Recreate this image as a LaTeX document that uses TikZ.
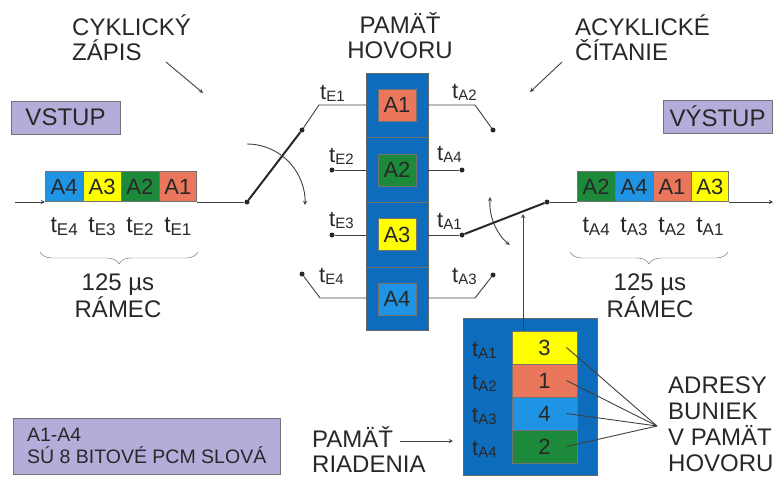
\documentclass[tikz,border=0pt]{standalone}
\usepackage{fontspec}
\setmainfont{Liberation Sans}
\usetikzlibrary{positioning,decorations.pathreplacing}

\definecolor{memblue}{RGB}{14,108,188}
\definecolor{cblue}{RGB}{32,148,228}
\definecolor{cyel}{RGB}{255,255,0}
\definecolor{cgreen}{RGB}{28,138,58}
\definecolor{csalmon}{RGB}{234,118,92}
\definecolor{lilac}{RGB}{181,172,218}
\definecolor{ink}{RGB}{40,40,40}

\newcommand{\tsub}[2][15]{t\raisebox{-2.5pt}{\fontsize{#1}{#1}\selectfont #2}}

\tikzset{
  big/.style={font=\fontsize{24}{25}\selectfont, text=ink, inner sep=0pt},
  cell/.style={draw=black!55, minimum width=37.5, minimum height=30, inner sep=0pt, font=\fontsize{22}{22}\selectfont, text=ink},
  mcell/.style={draw=black!55, minimum width=38, minimum height=32, inner sep=0pt, font=\fontsize{22}{22}\selectfont, text=ink},
  ccell/.style={draw=black!55, minimum width=65, minimum height=33, inner sep=0pt, font=\fontsize{22}{22}\selectfont, text=ink},
  tlab/.style={font=\fontsize{22}{22}\selectfont, text=ink, inner sep=0pt, anchor=base west},
  flab/.style={font=\fontsize{23}{23}\selectfont, text=ink, inner sep=0pt},
  dot/.style={circle, fill=ink, inner sep=0pt, minimum size=5pt},
  wire/.style={draw=black!75, line width=0.9pt},
  blade/.style={draw=ink, line width=2pt},
  tag/.style={draw=black!55, fill=lilac, inner sep=0pt, font=\fontsize{24}{24}\selectfont, text=ink},
}

\begin{document}
\begin{tikzpicture}[x=1pt, y=-1pt, ampersand replacement=\&, >=stealth]
\useasboundingbox (0,0) rectangle (775,477);

% headings (base = last line)
\node[big, anchor=base west, align=left] (cykl) at (72,60) {CYKLICKÝ\\ZÁPIS};
\node[big, anchor=base, align=center] (pamh) at (400,58) {PAMÄŤ\\HOVORU};
\node[big, anchor=base west, align=left] (acyk) at (575,60) {ACYKLICKÉ\\ČÍTANIE};
\coordinate (cz0) at (166,62);
\coordinate (cz) at (203,93);
\coordinate (ac0) at (562,62);
\coordinate (ac) at (530,92);
\draw[wire, ->] (cz0) -- (cz);
\draw[wire, ->] (ac0) -- (ac);

\node[tag, minimum width=109, minimum height=33] (vstup) at (65.5,117.5) {VSTUP};
\node[tag, minimum width=109, minimum height=33] (vystup) at (717.5,116.5) {VÝSTUP};

% input and output frames
\matrix (inframe) [anchor=south west, inner sep=0pt, column sep=0pt] at (45,202) {
  \node[cell,fill=cblue](i4){A4}; \& \node[cell,fill=cyel](i3){A3}; \& \node[cell,fill=cgreen](i2){A2}; \& \node[cell,fill=csalmon](i1){A1}; \\
};
\matrix (outframe) [anchor=south west, inner sep=0pt, column sep=0pt] at (577,202) {
  \node[cell,fill=cgreen](o2){A2}; \& \node[cell,fill=cblue](o4){A4}; \& \node[cell,fill=csalmon](o1){A1}; \& \node[cell,fill=cyel](o3){A3}; \\
};
\node[flab, below=16pt of i4] (le4) {\tsub[17]{E4}};
\node[flab, below=16pt of i3] (le3) {\tsub[17]{E3}};
\node[flab, below=16pt of i2] (le2) {\tsub[17]{E2}};
\node[flab, below=16pt of i1] (le1) {\tsub[17]{E1}};
\node[flab, below=16pt of o2] (la4) {\tsub[17]{A4}};
\node[flab, below=16pt of o4] (la3) {\tsub[17]{A3}};
\node[flab, below=16pt of o1] (la2) {\tsub[17]{A2}};
\node[flab, below=16pt of o3] (la1) {\tsub[17]{A1}};
\draw[decorate, decoration={brace, amplitude=12pt, mirror}, black!60] (40,252) -- (198,252);
\draw[decorate, decoration={brace, amplitude=12pt, mirror}, black!60] (570,252) -- (728,252);
\node[big, font=\fontsize{24}{27}\selectfont, anchor=base, align=center] (ramin) at (118,317) {125 µs\\RÁMEC};
\node[big, font=\fontsize{24}{27}\selectfont, anchor=base, align=center] (ramout) at (650,317) {125 µs\\RÁMEC};

% speech memory
\node[draw=black!60, fill=memblue, minimum width=62, minimum height=257, inner sep=0pt] (mem) at (397,201.5) {};
\draw[black!55] (mem.west |- 0,137) -- (mem.east |- 0,137);
\draw[black!55] (mem.west |- 0,202) -- (mem.east |- 0,202);
\draw[black!55] (mem.west |- 0,267) -- (mem.east |- 0,267);
\node[mcell, fill=csalmon] (m1) at (397,105) {A1};
\node[mcell, fill=cgreen] (m2) at (397,170) {A2};
\node[mcell, fill=cyel] (m3) at (397,234.5) {A3};
\node[mcell, fill=cblue] (m4) at (397,299) {A4};

\node[dot] (e1) at (302,130) {};
\node[dot] (e2) at (332,170) {};
\node[dot] (e3) at (332,235) {};
\node[dot] (e4) at (302,274) {};
\node[dot] (a2) at (493,130) {};
\node[dot] (a4) at (462,170) {};
\node[dot] (a1) at (462,235) {};
\node[dot] (a3) at (493,275) {};
\node[dot] (pin) at (247,202) {};
\node[dot] (pout) at (547,202) {};

\draw[wire] (mem.west |- m1) -- (319,105) -- (e1);
\draw[wire] (mem.west |- e2) -- (e2);
\draw[wire] (mem.west |- e3) -- (e3);
\draw[wire] (mem.west |- 0,298) -- (320,298) -- (e4);
\draw[wire] (mem.east |- m1) -- (475,105) -- (a2);
\draw[wire] (mem.east |- a4) -- (a4);
\draw[wire] (mem.east |- a1) -- (a1);
\draw[wire] (mem.east |- 0,298) -- (475,298) -- (a3);

\node[tlab] (te1) at (320,99) {\tsub{E1}};
\node[tlab] (te2) at (329,162) {\tsub{E2}};
\node[tlab] (te3) at (329,226) {\tsub{E3}};
\node[tlab] (te4) at (319,282) {\tsub{E4}};
\node[tlab] (ta2) at (452,98) {\tsub{A2}};
\node[tlab] (ta4) at (437,160) {\tsub{A4}};
\node[tlab] (ta1) at (437,227) {\tsub{A1}};
\node[tlab] (ta3) at (452,282) {\tsub{A3}};

% switches
\coordinate (src) at (15,202);
\coordinate (dst) at (773,202);
\draw[wire, ->] (src) -- (inframe.south west);
\draw[wire] (inframe.south east) -- (pin);
\draw[blade] (pin) -- (e1);
\draw[wire, ->] (pin) ++(0,-58) arc[start angle=90, end angle=-3, radius=58pt];
\draw[blade] (a1) -- (pout);
\draw[wire] (pout) -- (outframe.south west);
\draw[wire, ->] (outframe.south east) -- (dst);
\draw[wire, <->] (pout) ++(175:57pt) arc[start angle=175, end angle=229, radius=57pt];

% control memory
\node[draw=black!60, fill=memblue, minimum width=134, minimum height=157, inner sep=0pt] (ctrl) at (530,396.5) {};
\node[ccell, fill=cyel] (r1) at (544.5,347.5) {3};
\node[ccell, fill=csalmon] (r2) at (544.5,380.5) {1};
\node[ccell, fill=cblue] (r3) at (544.5,413.5) {4};
\node[ccell, fill=cgreen] (r4) at (544.5,446.5) {2};
\node[tlab] (c1) at (472,356) {\tsub{A1}};
\node[tlab] (c2) at (472,389) {\tsub{A2}};
\node[tlab] (c3) at (472,422) {\tsub{A3}};
\node[tlab] (c4) at (472,455) {\tsub{A4}};
\coordinate (ctl) at (523,214);
\draw[wire, ->] (r1.north -| ctl) -- (ctl);

\node[big, font=\fontsize{24}{26}\selectfont, anchor=base west, align=left] (adr) at (668,471) {ADRESY\\BUNIEK\\V PAMÄT\\HOVORU};
\coordinate (adp) at (657,426);
\draw[wire] ([xshift=22pt]r1.center) -- (adp);
\draw[wire] ([xshift=22pt]r2.center) -- (adp);
\draw[wire] ([xshift=22pt]r3.center) -- (adp);
\draw[wire] ([xshift=22pt]r4.center) -- (adp);

\node[big, anchor=base west, align=left] (pamr) at (312,472) {PAMÄŤ\\RIADENIA};
\coordinate (pl) at (400,441);
\coordinate (pr) at (453,441);
\draw[wire, ->] (pl) -- (pr);

\node[tag, font=\fontsize{19.5}{22}\selectfont, anchor=west, minimum width=267, minimum height=56, align=left] (note) at (13,446) {A1-A4\\SÚ 8 BITOVÉ PCM SLOVÁ};
\end{tikzpicture}
\end{document}
